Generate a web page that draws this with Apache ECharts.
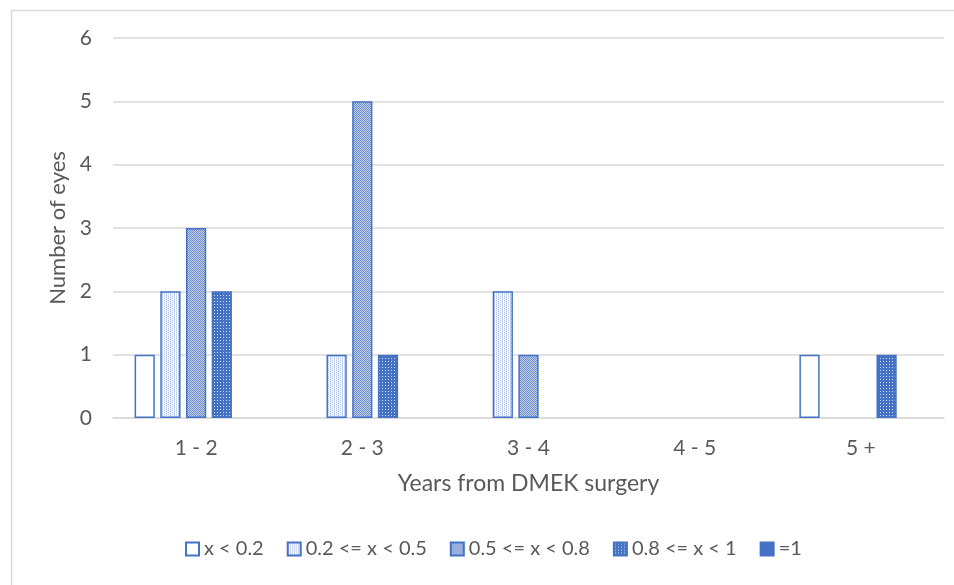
<!DOCTYPE html>
<html><head><meta charset="utf-8">
<script src="https://cdn.jsdelivr.net/npm/echarts@6/dist/echarts.min.js"></script>
<style>html,body{margin:0;padding:0;background:#fff}#c{width:954px;height:585px}</style>
</head><body><div id="c"></div>
<script>
const categories = ['1 - 2', '2 - 3', '3 - 4', '4 - 5', '5 +'];
const seriesNames = ['x < 0.2', '0.2 <= x < 0.5', '0.5 <= x < 0.8', '0.8 <= x < 1', '=1'];
const lt02 = [1, 0, 0, 0, 1];
const s02to05 = [2, 1, 2, 0, 0];
const s05to08 = [3, 5, 1, 0, 0];
const s08to1 = [2, 1, 0, 0, 1];
const eq1 = [0, 0, 0, 0, 0];
const yTicks = [0, 1, 2, 3, 4, 5, 6];

const BLUE = '#4472C4';
function pattern(kind) {
  const c = document.createElement('canvas');
  const g = c.getContext('2d');
  if (kind === 'light') {
    c.width = 4; c.height = 2;
    const px = [['#b3c4e8', '#ffffff', '#d2dcf1', '#ffffff'], ['#e6ecf7', '#ffffff', '#aabde5', '#ffffff']];
    for (let y = 0; y < 2; y++) for (let x = 0; x < 4; x++) { g.fillStyle = px[y][x]; g.fillRect(x, y, 1, 1); }
  } else if (kind === 'medium') {
    c.width = 2; c.height = 2;
    g.fillStyle = '#c3d0ec'; g.fillRect(0, 0, 2, 2);
    g.fillStyle = '#6d8dcf'; g.fillRect(0, 0, 1, 1); g.fillRect(1, 1, 1, 1);
  } else {
    c.width = 3; c.height = 3;
    g.fillStyle = BLUE; g.fillRect(0, 0, 3, 3);
    g.fillStyle = '#d3ddf2'; g.fillRect(1, 1, 1, 1);
  }
  return { image: c, repeat: 'repeat' };
}

const fills = ['#ffffff', pattern('light'), pattern('medium'), pattern('dense'), BLUE];
const datas = [lt02, s02to05, s05to08, s08to1, eq1];
const FONT = 'Lato, "Noto Sans", sans-serif';
const GREY = '#595959';

const chart = echarts.init(document.getElementById('c'), null, { renderer: 'canvas' });
chart.setOption({
  animation: false,
  backgroundColor: '#fff',
  textStyle: { fontFamily: FONT },
  graphic: [{
    type: 'rect', silent: true, z: -10,
    shape: { x: 11.5, y: 10.5, width: 980, height: 620 },
    style: { fill: 'none', stroke: '#d9d9d9', lineWidth: 1.5 }
  }],
  grid: { left: 113, right: 10, top: 38, bottom: 167, containLabel: false },
  legend: {
    top: 539, left: 185, padding: 0,
    itemWidth: 13, itemHeight: 13, itemGap: 23,
    icon: 'rect',
    textStyle: { fontSize: 20, color: GREY, fontFamily: FONT },
    data: seriesNames
  },
  xAxis: {
    type: 'category', data: categories,
    name: 'Years from DMEK surgery', nameLocation: 'middle', nameGap: 54,
    nameTextStyle: { fontSize: 23, color: GREY, fontFamily: FONT },
    axisLine: { show: true, lineStyle: { color: '#d9d9d9', width: 1.5 } },
    axisTick: { show: false },
    axisLabel: { fontSize: 21, color: GREY, margin: 20, fontFamily: FONT }
  },
  yAxis: {
    type: 'value', min: yTicks[0], max: yTicks[yTicks.length - 1], interval: 1,
    name: 'Number of eyes', nameLocation: 'middle', nameGap: 40,
    nameTextStyle: { fontSize: 22, color: GREY, fontFamily: FONT },
    axisLine: { show: false }, axisTick: { show: false },
    splitLine: { lineStyle: { color: '#d9d9d9', width: 1.5 } },
    axisLabel: { fontSize: 21, color: GREY, margin: 21, fontFamily: FONT }
  },
  series: seriesNames.map((n, i) => ({
    name: n, type: 'bar',
    data: datas[i].map(v => (v === 0 ? null : v)),
    barGap: '27%', barCategoryGap: '26%',
    itemStyle: { color: fills[i], borderColor: BLUE, borderWidth: 1.5 }
  }))
});
</script></body></html>
